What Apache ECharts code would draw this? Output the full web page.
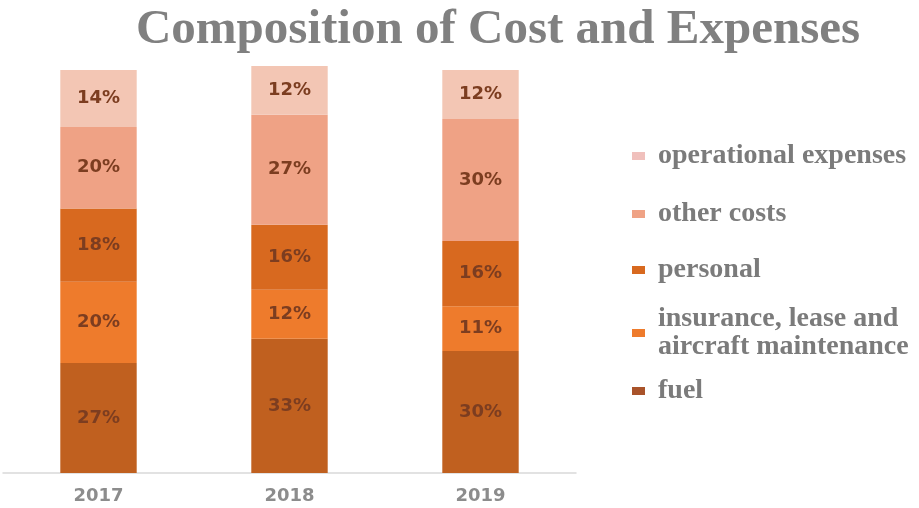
<!DOCTYPE html>
<html>
<head>
<meta charset="utf-8">
<script src="https://cdn.jsdelivr.net/npm/echarts@6/dist/echarts.min.js"></script>
<style>html,body{margin:0;padding:0;background:#fff}#c{width:919px;height:508px}</style>
</head>
<body>
<div id="c"></div>
<script>
var categories = ['2017', '2018', '2019'];
var fuel = [27, 33, 30];
var insurance = [20, 12, 11];
var personal = [18, 16, 16];
var otherCosts = [20, 27, 30];
var operational = [14, 12, 12];
var seriesNames = ['fuel', 'insurance, lease and\naircraft maintenance', 'personal', 'other costs', 'operational expenses'];
var seriesData = [fuel, insurance, personal, otherCosts, operational];
var colors = ['#C0601F', '#EE7B2C', '#D8691F', '#EFA285', '#F3C6B4'];
var legendColors = ['#A9532A', '#EE7B2C', '#D8691F', '#EFA285', '#F0C0BC'];
var legendTops = [372, 300, 251, 195, 137];

var chart = echarts.init(document.getElementById('c'));
var series = seriesNames.map(function (n, i) {
  return {
    name: n,
    type: 'bar',
    stack: 'total',
    barWidth: '40%',
    data: seriesData[i],
    itemStyle: { color: colors[i] },
    label: {
      show: true,
      position: 'inside',
      formatter: '{c}%',
      color: '#7C3D20',
      fontFamily: 'DejaVu Sans',
      fontSize: 18,
      fontWeight: 'bold'
    },
    emphasis: { disabled: true }
  };
});
var legends = seriesNames.map(function (n, i) {
  return {
    data: [{ name: n, itemStyle: { color: legendColors[i] } }],
    left: 627,
    top: legendTops[i],
    itemWidth: 13,
    itemHeight: 8,
    icon: 'rect',
    itemGap: 0,
    textStyle: {
      fontFamily: 'Liberation Serif',
      fontWeight: 'bold',
      fontSize: 28,
      color: '#7B7B7B',
      lineHeight: 28,
      padding: [0, 0, 0, 8]
    }
  };
});
chart.setOption({
  animation: false,
  title: {
    text: 'Composition of Cost and Expenses',
    left: 493,
    textAlign: 'center',
    top: 1,
    textStyle: {
      fontFamily: 'Liberation Serif',
      fontWeight: 'bold',
      fontSize: 49,
      color: '#808080'
    }
  },
  legend: legends,
  grid: { left: 3, top: 66, width: 573, height: 407, containLabel: false },
  xAxis: {
    type: 'category',
    data: categories,
    axisLine: { lineStyle: { color: '#D9D9D9', width: 1.5 } },
    axisTick: { show: false },
    axisLabel: {
      margin: 14,
      fontFamily: 'DejaVu Sans',
      fontWeight: 'bold',
      fontSize: 18,
      color: '#8C8C8C'
    }
  },
  yAxis: {
    type: 'value',
    min: 0,
    max: 100,
    show: false,
    splitLine: { show: false }
  },
  series: series
});
</script>
</body>
</html>
